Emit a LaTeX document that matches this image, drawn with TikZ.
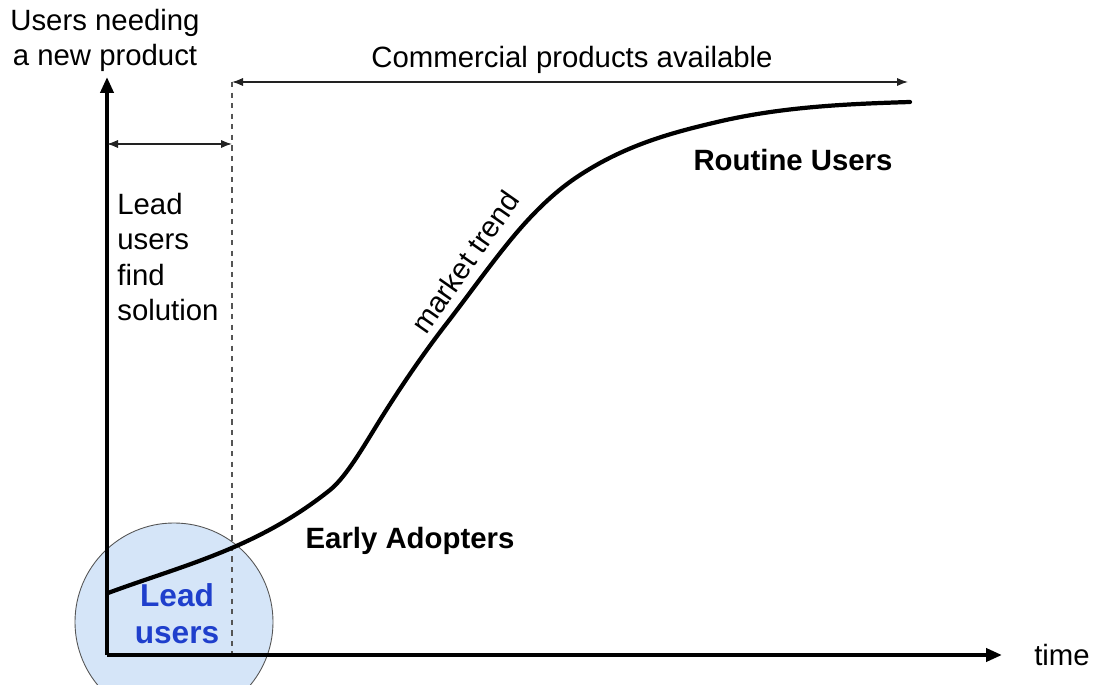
\documentclass[tikz,border=0pt]{standalone}
\usepackage{fontspec}
\setmainfont{Liberation Sans}
\usepackage{xcolor}
\usepackage{tikz}
\usetikzlibrary{positioning, arrows.meta}
\definecolor{azulClaro}{HTML}{D5E5F8}
\definecolor{azulTexto}{HTML}{1F3FCC}
\definecolor{grisBorde}{HTML}{555555}
\definecolor{grisTexto}{HTML}{222222}

\begin{document}
\begin{tikzpicture}[
    eje/.style={-{Triangle[length=3.2mm, width=2.6mm]}, line width=2.2pt},
    tramo/.style={{Latex[length=2.2mm]}-{Latex[length=2.2mm]}, line width=0.8pt, color=grisTexto},
    guia/.style={dashed, line width=0.6pt, color=grisBorde},
    tendencia/.style={line width=2.4pt, line cap=round},
    etiqueta/.style={font=\fontsize{16.7}{20}\selectfont, inner sep=0pt, align=center},
    fase/.style={etiqueta, font=\fontsize{16.7}{20}\selectfont\bfseries},
    lider/.style={etiqueta, font=\fontsize{18}{21}\selectfont\bfseries, text=azulTexto},
]

\clip (0,0) rectangle (21.86,13.68);

% zona de usuarios lideres
\node[circle, draw=grisBorde, line width=0.5pt, fill=azulClaro, minimum size=3.96cm] (zona) at (3.48,1.24) {};

% ejes
\coordinate (origen) at (2.14,0.58);
\coordinate (ytope)  at (2.14,12.14);
\coordinate (xfin)   at (20.04,0.58);
\coordinate (dtope)  at (4.64,12.04);
\coordinate (dbase)  at (4.64,0.58);
\coordinate (izq)    at (2.14,10.80);
\coordinate (der)    at (4.64,10.80);
\coordinate (fin)    at (18.16,12.04);

\draw[guia] (dtope) -- (dbase);
\draw[eje] (origen) -- (ytope);
\draw[eje] (origen) -- (xfin);

\draw[tramo] (izq) -- (der);
\draw[tramo] (dtope) -- (fin);

% curva de adopcion
\draw[tendencia] (2.16,1.82)
    .. controls (3.64,2.37) and (5.12,2.70) .. (6.60,3.88)
    .. controls (6.93,4.15) and (7.27,4.75) .. (7.60,5.28)
    .. controls (8.05,6.00) and (8.49,6.64) .. (8.94,7.22)
    .. controls (9.38,7.79) and (9.82,8.41) .. (10.26,8.94)
    .. controls (10.71,9.48) and (11.15,9.89) .. (11.60,10.18)
    .. controls (12.49,10.76) and (13.37,11.01) .. (14.26,11.22)
    .. controls (15.57,11.54) and (16.89,11.60) .. (18.20,11.64);

\node[etiqueta] (eje_y)     at (2.10,12.88)  {Users needing\\a new product};
\node[etiqueta] (comercial) at (11.44,12.48) {Commercial products available};
\node[etiqueta, align=left, anchor=west, font=\fontsize{16.7}{20.2}\selectfont] (hallazgo) at (2.34,8.54) {Lead\\users\\find\\solution};
\node[etiqueta, rotate=55] (mercado) at (9.30,8.44) {market trend};
\node[fase] (rutina)   at (15.86,10.48) {Routine Users};
\node[fase] (tempranos) at (8.20,2.86)  {Early Adopters};
\node[lider] (lideres) at (3.54,1.40)   {Lead\\users};
\node[etiqueta] (tiempo) at (21.24,0.58) {time};

\end{tikzpicture}
\end{document}
